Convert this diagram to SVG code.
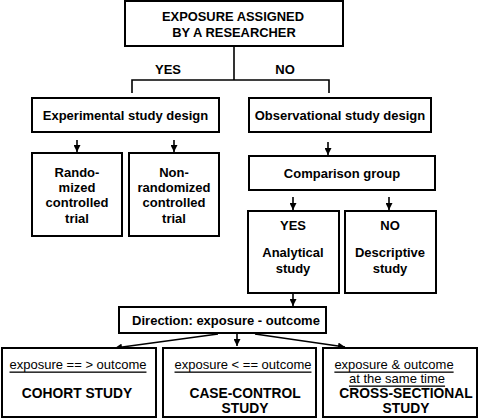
<svg xmlns="http://www.w3.org/2000/svg" width="479" height="420" viewBox="0 0 479 420">
<defs>
<marker id="ah" viewBox="0 0 10 10" refX="10" refY="5" markerWidth="7" markerHeight="7" orient="auto" markerUnits="userSpaceOnUse">
<path d="M0,0 L10,5 L0,10 z" fill="#000"/>
</marker>
<style>
rect{fill:#fff;stroke:#000;stroke-width:2}
text{font-family:"Liberation Sans",Arial,sans-serif;font-size:13px;fill:#000;text-anchor:middle;dominant-baseline:central}
.b{font-weight:bold}
.t{font-size:12.9px}
.big{font-size:13.8px}
.u{text-decoration:underline;font-size:13px}
.c line,.c path{stroke:#000;stroke-width:1.6;fill:none}
</style>
</defs>
<rect x="0" y="0" width="479" height="420" style="fill:#fff;stroke:none"/>
<g class="c" id="connectors">
<path d="M234,46 V80 M132,93 V80 H329 V93"/>
<line x1="77" y1="140" x2="77" y2="152" marker-end="url(#ah)"/>
<line x1="174" y1="140" x2="174" y2="152" marker-end="url(#ah)"/>
<line x1="328" y1="142" x2="328" y2="155" marker-end="url(#ah)"/>
<line x1="293" y1="197" x2="293" y2="210" marker-end="url(#ah)"/>
<line x1="389" y1="197" x2="389" y2="210" marker-end="url(#ah)"/>
<line x1="293" y1="294" x2="293" y2="306" marker-end="url(#ah)"/>
<line x1="218" y1="334" x2="115" y2="348" marker-end="url(#ah)"/>
<line x1="237" y1="334" x2="237" y2="346" marker-end="url(#ah)"/>
<line x1="255" y1="334" x2="345" y2="347" marker-end="url(#ah)"/>
</g>
<text class="b" x="168" y="69">YES</text>
<text class="b" x="285" y="69">NO</text>
<g id="top"><rect x="125" y="1" width="218" height="45"/>
<text class="b t" x="233" y="16">EXPOSURE ASSIGNED</text>
<text class="b t" x="234" y="32">BY A RESEARCHER</text></g>
<g id="experimental"><rect x="32" y="98" width="187" height="34"/>
<text class="b" x="125.5" y="115">Experimental study design</text></g>
<g id="observational"><rect x="249" y="98" width="182" height="34"/>
<text class="b" x="340" y="115">Observational study design</text></g>
<g id="rct"><rect x="32" y="153" width="90" height="83"/>
<text class="b" x="77" y="172">Rando-</text>
<text class="b" x="77" y="187">mized</text>
<text class="b" x="77" y="202.5">controlled</text>
<text class="b" x="77" y="218">trial</text></g>
<g id="nonrct"><rect x="129" y="153" width="90" height="83"/>
<text class="b" x="174" y="172">Non-</text>
<text class="b" x="174" y="187">randomized</text>
<text class="b" x="174" y="202.5">controlled</text>
<text class="b" x="174" y="218">trial</text></g>
<g id="comparison"><rect x="249" y="156" width="186" height="34"/>
<text class="b" x="342" y="173">Comparison group</text></g>
<g id="analytical"><rect x="248" y="211" width="91" height="82"/>
<text class="b" x="293" y="225">YES</text>
<text class="b" x="293" y="252">Analytical</text>
<text class="b" x="293" y="268">study</text></g>
<g id="descriptive"><rect x="345" y="211" width="91" height="82"/>
<text class="b" x="390" y="225">NO</text>
<text class="b" x="390" y="252">Descriptive</text>
<text class="b" x="390" y="268">study</text></g>
<g id="direction"><rect x="119" y="307" width="207" height="26"/>
<text class="b" x="226" y="320">Direction: exposure - outcome</text></g>
<g id="cohort"><rect x="2" y="348" width="154" height="69"/>
<text class="u" x="78" y="364">exposure == &gt; outcome</text>
<text class="b big" x="77" y="393">COHORT STUDY</text></g>
<g id="casecontrol"><rect x="163" y="348" width="153" height="69"/>
<text class="u" x="243" y="364">exposure &lt; == outcome</text>
<text class="b big" x="245" y="393">CASE-CONTROL</text>
<text class="b big" x="245" y="408">STUDY</text></g>
<g id="crosssectional"><rect x="323" y="348" width="154" height="69"/>
<text class="u" x="394" y="364">exposure &amp; outcome</text>
<text class="u" x="397" y="378">at the same time</text>
<text class="b big" x="406" y="393">CROSS-SECTIONAL</text>
<text class="b big" x="406" y="408">STUDY</text></g>
</svg>
